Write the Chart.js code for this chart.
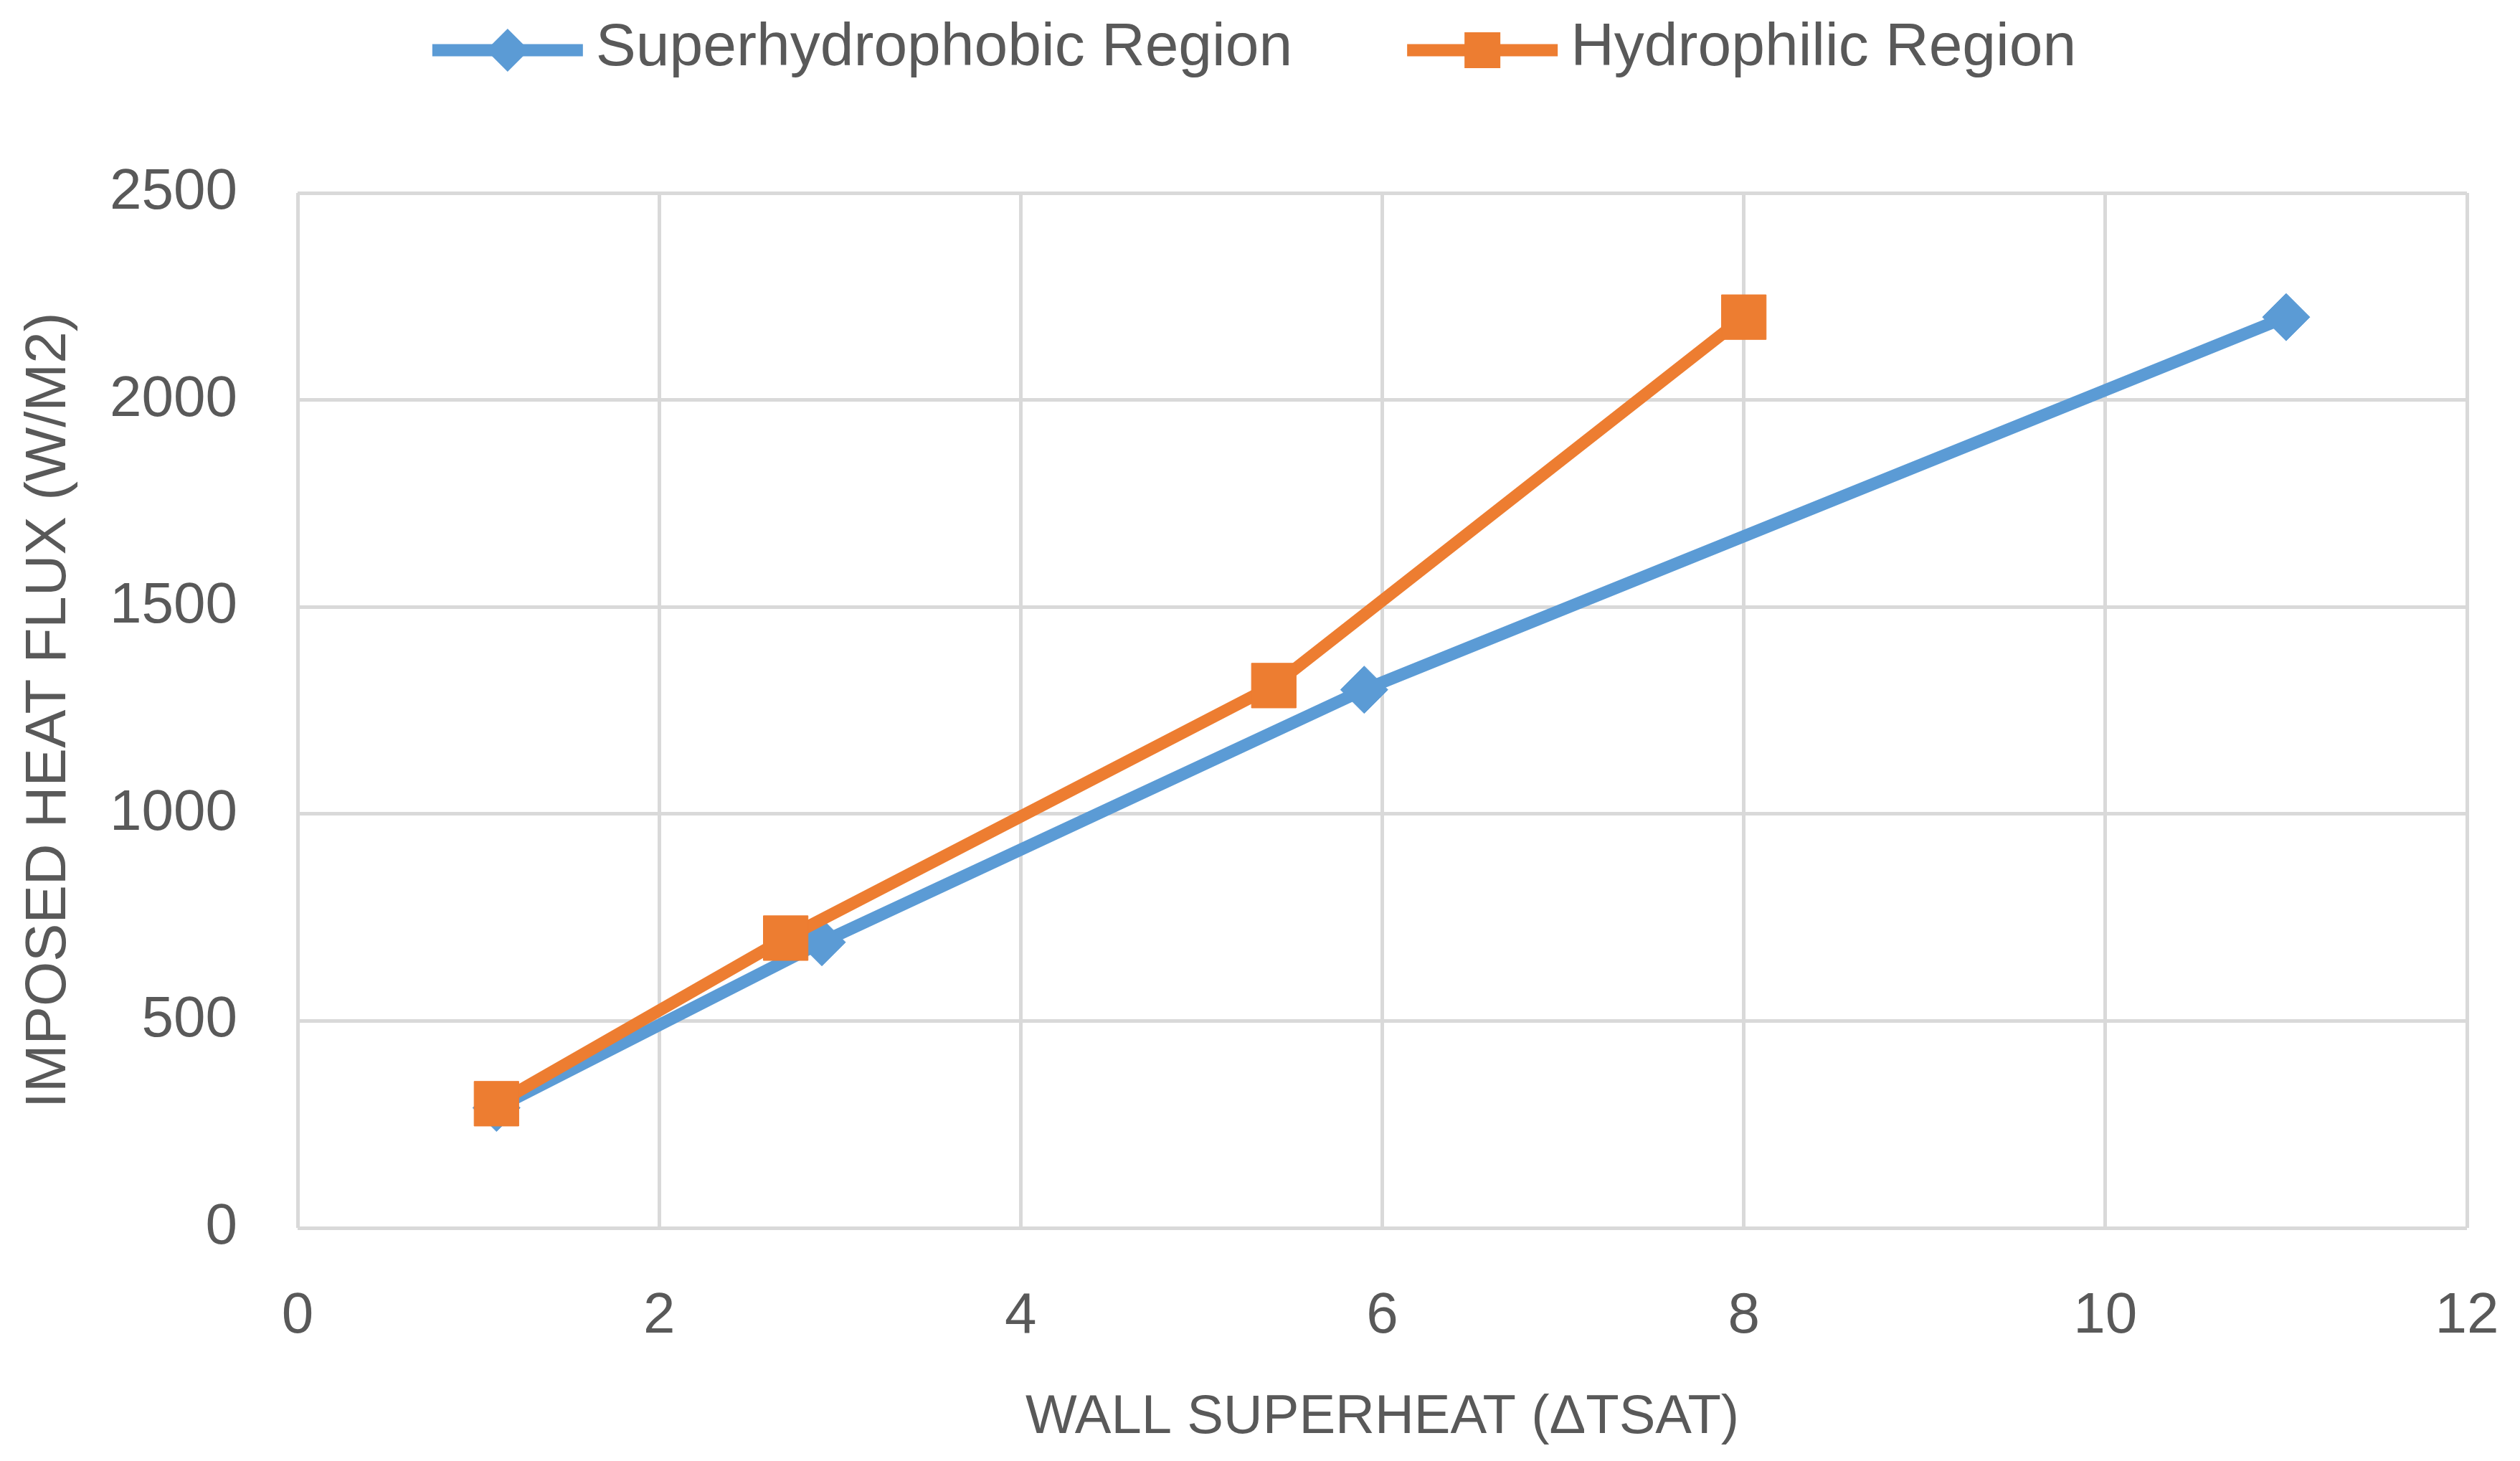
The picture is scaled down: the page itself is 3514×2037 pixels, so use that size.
<!DOCTYPE html>
<html>
<head>
<meta charset="utf-8">
<script src="https://cdn.jsdelivr.net/npm/chart.js@4.4.1/dist/chart.umd.min.js"></script>
<style>
  html, body { margin: 0; padding: 0; background: #ffffff; }
  canvas { display: block; }
</style>
</head>
<body>
<canvas id="heatChart" width="3514" height="2037"></canvas>
<script>
// values
const seriesNames = ["Superhydrophobic Region", "Hydrophilic Region"];
const superX = [1.1, 2.9, 5.9, 11];
const superY = [290, 690, 1300, 2200];
const hydroX = [1.1, 2.7, 5.4, 8];
const hydroY = [300, 700, 1310, 2200];
const xTicks = [0, 2, 4, 6, 8, 10, 12];
const yTicks = [0, 500, 1000, 1500, 2000, 2500];

const BLUE = "#5B9BD5";
const ORANGE = "#ED7D31";
const TEXT = "#595959";
const GRID = "#D9D9D9";
const FONT = "'Liberation Sans', Arial, sans-serif";

function toPoints(xs, ys) {
    return xs.map((x, i) => ({ x: x, y: ys[i] }));
}

// Excel-style legend: line with the marker in the middle, then the label
const lineLegend = {
    id: "lineLegend",
    afterDraw(chart) {
        const ctx = chart.ctx;
        const lineLen = 210;
        const textGap = 18;
        const itemGap = 160;
        const y = 70;
        ctx.save();
        ctx.font = "84px " + FONT;
        const items = chart.data.datasets.map(ds => ({
            ds: ds,
            w: lineLen + textGap + ctx.measureText(ds.label).width
        }));
        const total = items.reduce((s, it) => s + it.w, 0) + itemGap * (items.length - 1);
        let x = (chart.width - total) / 2 - 8;
        items.forEach(it => {
            const ds = it.ds;
            ctx.strokeStyle = ds.borderColor;
            ctx.lineWidth = 17;
            ctx.beginPath();
            ctx.moveTo(x, y);
            ctx.lineTo(x + lineLen, y);
            ctx.stroke();
            const cx = x + lineLen / 2;
            ctx.fillStyle = ds.borderColor;
            ctx.beginPath();
            if (ds.pointStyle === "rectRot") {
                const r = 30;
                ctx.moveTo(cx, y - r);
                ctx.lineTo(cx + r, y);
                ctx.lineTo(cx, y + r);
                ctx.lineTo(cx - r, y);
                ctx.closePath();
            } else {
                ctx.rect(cx - 25, y - 25, 50, 50);
            }
            ctx.fill();
            ctx.fillStyle = TEXT;
            ctx.textAlign = "left";
            ctx.textBaseline = "middle";
            ctx.fillText(ds.label, x + lineLen + textGap, y - 2);
            x += it.w + itemGap;
        });
        ctx.restore();
    }
};

const ctx = document.getElementById("heatChart").getContext("2d");

const heatChart = new Chart(ctx, {
    type: "scatter",
    data: {
        datasets: [{
            label: seriesNames[0],
            data: toPoints(superX, superY),
            showLine: true,
            borderColor: BLUE,
            backgroundColor: BLUE,
            borderWidth: 17,
            pointStyle: "rectRot",
            pointRadius: 33,
            pointHoverRadius: 33,
            pointBorderWidth: 1,
            pointBackgroundColor: BLUE,
            pointBorderColor: BLUE,
            order: 1
        }, {
            label: seriesNames[1],
            data: toPoints(hydroX, hydroY),
            showLine: true,
            borderColor: ORANGE,
            backgroundColor: ORANGE,
            borderWidth: 17,
            pointStyle: "rect",
            pointRadius: 44,
            pointHoverRadius: 44,
            pointBorderWidth: 1,
            pointBackgroundColor: ORANGE,
            pointBorderColor: ORANGE,
            order: 0
        }]
    },
    options: {
        responsive: false,
        animation: false,
        devicePixelRatio: 1,
        layout: {
            padding: { top: 269, right: 74, left: 0, bottom: 0 }
        },
        plugins: {
            legend: { display: false },
            tooltip: { enabled: false }
        },
        scales: {
            x: {
                type: "linear",
                min: xTicks[0],
                max: xTicks[xTicks.length - 1],
                afterFit(scale) {
                    scale.height = 325;
                    scale.paddingLeft = 0;
                    scale.paddingRight = 0;
                },
                afterBuildTicks(scale) { scale.ticks = xTicks.map(v => ({ value: v })); },
                ticks: {
                    color: TEXT,
                    padding: 76,
                    font: { family: FONT, size: 80 },
                    callback: v => String(v)
                },
                grid: { color: GRID, lineWidth: 5, drawTicks: false },
                border: { display: false },
                title: {
                    display: true,
                    text: "WALL SUPERHEAT (ΔTSAT)",
                    color: TEXT,
                    font: { family: FONT, size: 76 },
                    padding: { top: 0, bottom: 14 }
                }
            },
            y: {
                min: yTicks[0],
                max: yTicks[yTicks.length - 1],
                afterFit(scale) {
                    scale.width = 415;
                    scale.paddingTop = 0;
                    scale.paddingBottom = 0;
                },
                afterBuildTicks(scale) { scale.ticks = yTicks.map(v => ({ value: v })); },
                ticks: {
                    color: TEXT,
                    padding: 84,
                    font: { family: FONT, size: 80 },
                    callback: v => String(v)
                },
                grid: { color: GRID, lineWidth: 5, drawTicks: false },
                border: { display: false },
                title: {
                    display: true,
                    text: "IMPOSED HEAT FLUX (W/M2)",
                    color: TEXT,
                    font: { family: FONT, size: 80 },
                    padding: { top: 21, bottom: 0 }
                }
            }
        }
    },
    plugins: [lineLegend]
});
</script>
</body>
</html>
